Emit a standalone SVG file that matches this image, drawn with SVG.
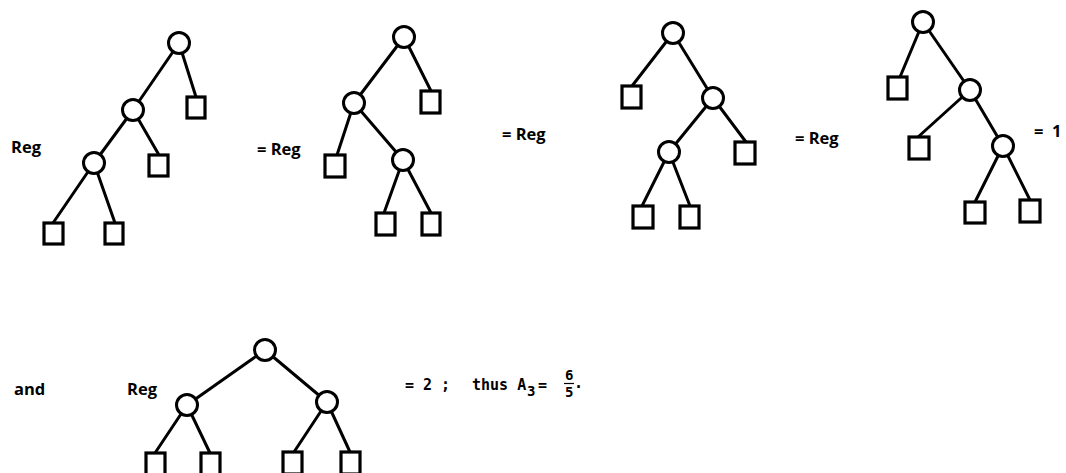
<svg xmlns="http://www.w3.org/2000/svg" width="1066" height="473" viewBox="0 0 1066 473">
<style>
.e{stroke:#000;stroke-width:3;stroke-linecap:round;fill:none}
.c{fill:#fff;stroke:#000;stroke-width:3}
.s{fill:#fff;stroke:#000;stroke-width:3.2}
.t{font-family:"Open Sans","DejaVu Sans",sans-serif;font-weight:700;font-size:16.5px;fill:#000}
.m{font-family:"DejaVu Sans Mono","Liberation Mono",monospace;font-weight:700;font-size:15px;fill:#000}
.ms{font-family:"DejaVu Sans Mono","Liberation Mono",monospace;font-weight:700;font-size:14px;fill:#000}
</style>
<rect width="1066" height="473" fill="#fff"/>
<g id="connectors">
<line class="e" x1="179" y1="43" x2="133" y2="110"/>
<line class="e" x1="179" y1="43" x2="196" y2="97"/>
<line class="e" x1="133" y1="110" x2="94" y2="163"/>
<line class="e" x1="133" y1="110" x2="159" y2="155"/>
<line class="e" x1="94" y1="163" x2="53" y2="223"/>
<line class="e" x1="94" y1="163" x2="115" y2="223"/>
<line class="e" x1="404" y1="37" x2="354" y2="103"/>
<line class="e" x1="404" y1="37" x2="431" y2="91"/>
<line class="e" x1="354" y1="103" x2="337" y2="155"/>
<line class="e" x1="354" y1="103" x2="403" y2="160"/>
<line class="e" x1="403" y1="160" x2="384" y2="213"/>
<line class="e" x1="403" y1="160" x2="431" y2="213"/>
<line class="e" x1="673" y1="33" x2="632" y2="86"/>
<line class="e" x1="673" y1="33" x2="713" y2="98"/>
<line class="e" x1="713" y1="98" x2="669" y2="152"/>
<line class="e" x1="713" y1="98" x2="746" y2="142"/>
<line class="e" x1="669" y1="152" x2="642" y2="206"/>
<line class="e" x1="669" y1="152" x2="690" y2="206"/>
<line class="e" x1="923" y1="22" x2="900" y2="77"/>
<line class="e" x1="923" y1="22" x2="970" y2="90"/>
<line class="e" x1="970" y1="90" x2="918" y2="137"/>
<line class="e" x1="970" y1="90" x2="1003" y2="146"/>
<line class="e" x1="1003" y1="146" x2="975" y2="202"/>
<line class="e" x1="1003" y1="146" x2="1030" y2="200"/>
<line class="e" x1="265" y1="350" x2="187" y2="405"/>
<line class="e" x1="265" y1="350" x2="327" y2="402"/>
<line class="e" x1="187" y1="405" x2="155" y2="453"/>
<line class="e" x1="187" y1="405" x2="210" y2="453"/>
<line class="e" x1="327" y1="402" x2="294" y2="452"/>
<line class="e" x1="327" y1="402" x2="350" y2="452"/>
</g>
<g id="tree1">
<circle class="c" cx="179" cy="43" r="10.5"/>
<circle class="c" cx="133" cy="110" r="10.5"/>
<circle class="c" cx="94" cy="163" r="10.5"/>
<rect class="s" x="187" y="97" width="18" height="21"/>
<rect class="s" x="149" y="155" width="19" height="21"/>
<rect class="s" x="44" y="223" width="19" height="21"/>
<rect class="s" x="105" y="223" width="18" height="21"/>
</g>
<g id="tree2">
<circle class="c" cx="404" cy="37" r="10.5"/>
<circle class="c" cx="354" cy="103" r="10.5"/>
<circle class="c" cx="403" cy="160" r="10.5"/>
<rect class="s" x="421" y="91" width="19" height="22"/>
<rect class="s" x="325" y="155" width="20" height="22"/>
<rect class="s" x="376" y="213" width="19" height="22"/>
<rect class="s" x="422" y="213" width="18" height="22"/>
</g>
<g id="tree3">
<circle class="c" cx="673" cy="33" r="10.5"/>
<circle class="c" cx="713" cy="98" r="10.5"/>
<circle class="c" cx="669" cy="152" r="10.5"/>
<rect class="s" x="622" y="86" width="19" height="22"/>
<rect class="s" x="735" y="142" width="20" height="22"/>
<rect class="s" x="633" y="206" width="20" height="22"/>
<rect class="s" x="680" y="206" width="19" height="22"/>
</g>
<g id="tree4">
<circle class="c" cx="923" cy="22" r="10.5"/>
<circle class="c" cx="970" cy="90" r="10.5"/>
<circle class="c" cx="1003" cy="146" r="10.5"/>
<rect class="s" x="888" y="77" width="19" height="22"/>
<rect class="s" x="909" y="137" width="20" height="22"/>
<rect class="s" x="965" y="202" width="20" height="21"/>
<rect class="s" x="1020" y="200" width="20" height="22"/>
</g>
<g id="tree5">
<circle class="c" cx="265" cy="350" r="10.5"/>
<circle class="c" cx="187" cy="405" r="10.5"/>
<circle class="c" cx="327" cy="402" r="10.5"/>
<rect class="s" x="146" y="453" width="19" height="22"/>
<rect class="s" x="201" y="453" width="19" height="22"/>
<rect class="s" x="283" y="452" width="19" height="22"/>
<rect class="s" x="341" y="452" width="19" height="22"/>
</g>
<g id="labels">
<text class="t" x="11" y="153">Reg</text>
<text class="t" x="257" y="155">= Reg</text>
<text class="t" x="502" y="140">= Reg</text>
<text class="t" x="795" y="144">= Reg</text>
<text class="t" x="1034" y="137" xml:space="preserve">=  1</text>
<text class="t" x="14" y="395">and</text>
<text class="t" x="127" y="395">Reg</text>
<text class="m" x="405" y="390" xml:space="preserve">= 2 ;</text>
<text class="m" x="472" y="390">thus A</text>
<text class="ms" x="527" y="396">3</text>
<text class="m" x="538" y="390">=</text>
<text class="ms" x="565" y="380">6</text>
<line x1="564" y1="383.5" x2="574" y2="383.5" stroke="#000" stroke-width="1.2"/>
<text class="ms" x="565" y="397">5</text>
<text class="m" x="574" y="388">.</text>
</g>
</svg>
